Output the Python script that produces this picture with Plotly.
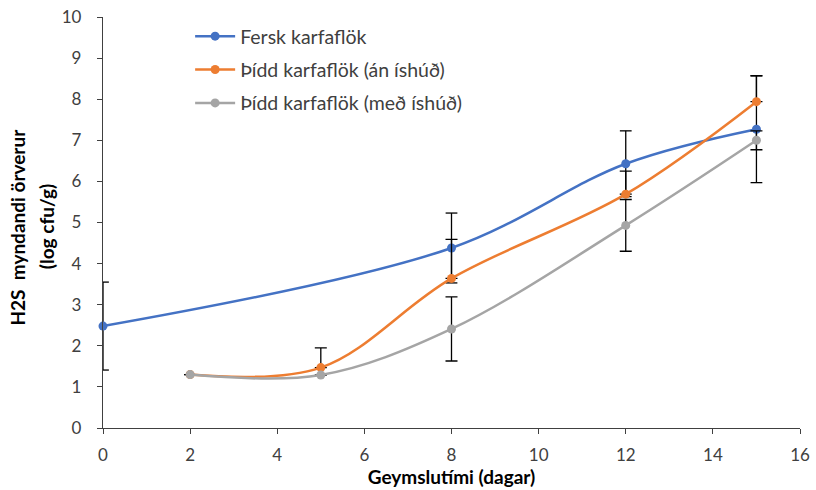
import plotly.graph_objects as go

# Storage time (days) and H2S-producing bacteria counts (log cfu/g)
days_fresh = [0, 8, 12, 15]
fresh = [2.48, 4.38, 6.43, 7.27]
fresh_err = [1.07, 0.85, 0.80, 1.30]

days_thawed = [2, 5, 8, 12, 15]
thawed_no_glaze = [1.30, 1.47, 3.64, 5.69, 7.94]
thawed_no_glaze_err_plus = [0, 0.48, 0.95, 0.56, 0.63]

thawed_glaze = [1.30, 1.29, 2.41, 4.93, 7.00]
thawed_glaze_err = [0, 0, 0.78, 0.63, 0.23]

names = ["Fersk karfaflök", "Þídd karfaflök (án íshúð)", "Þídd karfaflök (með íshúð)"]
colors = ["#4472C4", "#ED7D31", "#A5A5A5"]

x_ticks = [0, 2, 4, 6, 8, 10, 12, 14, 16]
y_ticks = list(range(0, 11))

FONT = "Lato, 'Open Sans', sans-serif"
err_style = dict(color="#000000", thickness=1.3, width=6)
CAP_HALF = 0.135  # cap half-width in days (about 6 px)


def error_segments(xs, ys, errs, cap=CAP_HALF):
    """Whisker + cap polylines for symmetric error bars, as one line trace."""
    px, py = [], []
    for x, y, e in zip(xs, ys, errs):
        if e <= 0:
            continue
        lo, hi = y - e, y + e
        px += [x, x, None, x - cap, x + cap, None, x - cap, x + cap, None]
        py += [lo, hi, None, hi, hi, None, lo, lo, None]
    return px, py


fig = go.Figure()

# Fresh-fillet error bars as clipped line segments, so the bar on the
# y axis is cut at the plot edge like the rest of the drawing.
ex, ey = error_segments(days_fresh, fresh, fresh_err)
fig.add_trace(go.Scatter(
    x=ex, y=ey, mode="lines", showlegend=False, hoverinfo="skip",
    line=dict(color="#000000", width=1.3),
))
fig.add_trace(go.Scatter(
    x=days_fresh, y=fresh, name=names[0], mode="lines+markers", legendgroup="a",
    line=dict(color=colors[0], width=2.5, shape="spline", smoothing=1.0),
    marker=dict(color=colors[0], size=9),
    cliponaxis=False,
))
fig.add_trace(go.Scatter(
    x=days_thawed, y=thawed_no_glaze, name=names[1], mode="lines+markers", legendgroup="b",
    line=dict(color=colors[1], width=2.5, shape="spline", smoothing=1.0),
    marker=dict(color=colors[1], size=9),
    error_y=dict(type="data", symmetric=False, array=thawed_no_glaze_err_plus,
                 arrayminus=[0] * len(days_thawed), visible=True, **err_style),
    cliponaxis=False,
))
fig.add_trace(go.Scatter(
    x=days_thawed, y=thawed_glaze, name=names[2], mode="lines+markers", legendgroup="c",
    line=dict(color=colors[2], width=2.5, shape="spline", smoothing=1.0),
    marker=dict(color=colors[2], size=9),
    error_y=dict(type="data", array=thawed_glaze_err, visible=True, **err_style),
    cliponaxis=False,
))

axis_font = dict(family=FONT, size=17, color="#404040")
title_font = dict(family=FONT, size=19, color="#000000")

fig.update_layout(
    width=816, height=490,
    margin=dict(l=103, r=16, t=17, b=62, autoexpand=False),
    paper_bgcolor="white", plot_bgcolor="white",
    font=dict(family=FONT, size=15, color="#404040"),
    showlegend=True,
    legend=dict(
        x=0.125, y=1.0, xanchor="left", yanchor="top",
        bgcolor="rgba(0,0,0,0)", font=dict(family=FONT, size=19.5, color="#404040"),
        tracegroupgap=5, itemwidth=40,
    ),
    xaxis=dict(
        range=[0, 16], tickvals=x_ticks, ticktext=[str(v) for v in x_ticks],
        showgrid=False, zeroline=False, showline=True, linecolor="#404040", linewidth=1.3,
        ticks="outside", ticklen=5, tickcolor="#404040", tickfont=axis_font,
        ticklabelstandoff=6, automargin=False,
        title=dict(text="<b>Geymslutími (dagar)</b>", font=title_font, standoff=0),
    ),
    yaxis=dict(
        range=[0, 10], tickvals=y_ticks, ticktext=[str(v) for v in y_ticks],
        showgrid=False, zeroline=False, showline=True, linecolor="#404040", linewidth=1.3,
        ticks="outside", ticklen=5, tickcolor="#404040", tickfont=axis_font,
        ticklabelstandoff=12, automargin=False,
    ),
    annotations=[
        dict(text="<b>H2S  myndandi örverur</b>", xref="paper", yref="paper",
             x=-0.122, y=0.49, xanchor="center", yanchor="middle", textangle=-90,
             showarrow=False, font=title_font),
        dict(text="<b>(log cfu/g)</b>", xref="paper", yref="paper",
             x=-0.081, y=0.49, xanchor="center", yanchor="middle", textangle=-90,
             showarrow=False, font=title_font),
    ],
)

fig.write_html("out.html")
